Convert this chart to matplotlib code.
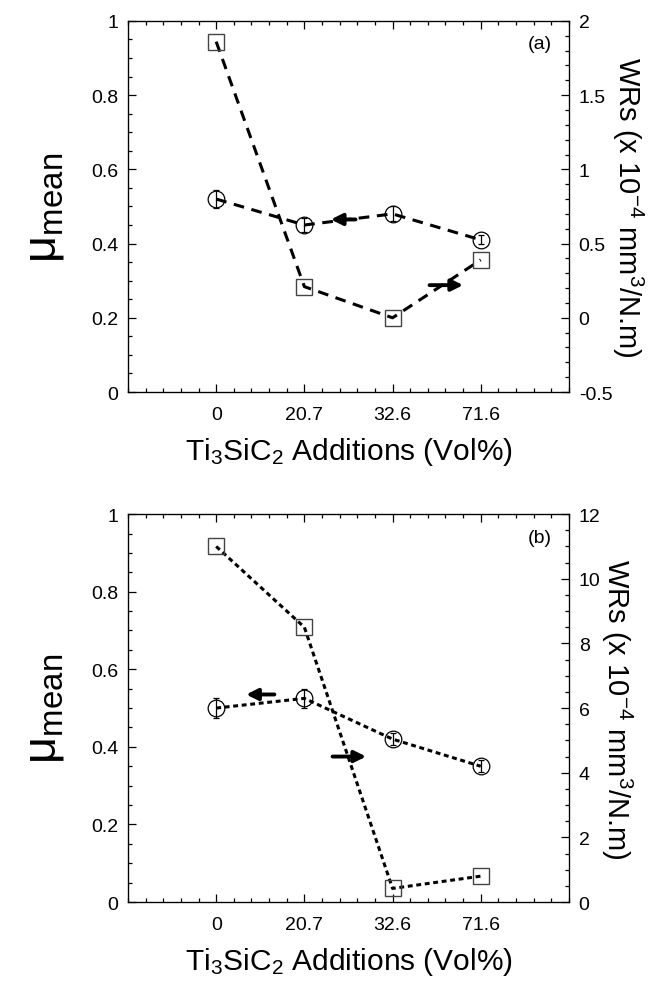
import numpy as np
import matplotlib.pyplot as plt
from matplotlib.ticker import MultipleLocator, FuncFormatter

plt.rcParams['font.family'] = ['Liberation Sans', 'DejaVu Sans']
plt.rcParams['mathtext.fontset'] = 'custom'
plt.rcParams['mathtext.rm'] = 'Liberation Sans'
plt.rcParams['mathtext.it'] = 'Liberation Sans'
plt.rcParams['mathtext.default'] = 'regular'

# x categories (Ti3SiC2 vol%)
labels = ['0', '20.7', '32.6', '71.6']
xpos = [1, 2, 3, 4]

# panel (a)
mu_a = [0.52, 0.45, 0.48, 0.41]
mu_a_err = [0.025, 0.02, 0.02, 0.012]
wr_a = [1.86, 0.21, 0.0, 0.39]

# panel (b)
mu_b = [0.50, 0.525, 0.42, 0.35]
mu_b_err = [0.025, 0.025, 0.015, 0.015]
wr_b = [11.0, 8.5, 0.42, 0.8]

fig = plt.figure(figsize=(6.65, 9.87), dpi=100)

panels = [
    dict(rect=[0.1925, 0.6018, 0.663, 0.376], mu=mu_a, err=mu_a_err, wr=wr_a,
         wlim=(-0.5, 2), wmaj=0.5, wmin=0.1, dash=(3.5, 2.5), tag='(a)',
         arr_mu=((2.58, 0.465), (2.30, 0.465)), arr_wr=((3.42, 0.22), (3.80, 0.22))),
    dict(rect=[0.1925, 0.0851, 0.663, 0.393], mu=mu_b, err=mu_b_err, wr=wr_b,
         wlim=(0, 12), wmaj=2, wmin=0.5, dash=(1.6, 1.2), tag='(b)',
         arr_mu=((1.66, 0.535), (1.34, 0.535)), arr_wr=((2.32, 4.5), (2.70, 4.5))),
]

fmt = FuncFormatter(lambda v, pos: f'{v:g}')

for p in panels:
    ax = fig.add_axes(p['rect'])
    ax2 = ax.twinx()

    ax.errorbar(xpos, p['mu'], yerr=p['err'], color='black', lw=2.2,
                dashes=p['dash'], marker='o', ms=12, mfc='none', mec='black',
                mew=0.9, elinewidth=0.9, capsize=2.5, capthick=0.9)
    ax2.plot(xpos, p['wr'], color='black', lw=2.2, dashes=p['dash'],
             marker='s', ms=12, mfc='none', mec='#444444', mew=1.0)

    arrow = dict(arrowstyle='-|>', lw=2.8, color='black', mutation_scale=17,
                 shrinkA=0, shrinkB=0)
    ax.annotate('', xy=p['arr_mu'][1], xytext=p['arr_mu'][0], arrowprops=arrow)
    ax2.annotate('', xy=p['arr_wr'][1], xytext=p['arr_wr'][0], arrowprops=arrow)

    ax.set_xlim(0, 5)
    ax.set_ylim(0, 1)
    ax2.set_ylim(*p['wlim'])
    ax.set_xticks(xpos)
    ax.set_xticklabels(labels)
    ax.xaxis.set_minor_locator(MultipleLocator(0.2))
    ax.yaxis.set_major_locator(MultipleLocator(0.2))
    ax.yaxis.set_minor_locator(MultipleLocator(0.05))
    ax.yaxis.set_major_formatter(fmt)
    ax2.yaxis.set_major_locator(MultipleLocator(p['wmaj']))
    ax2.yaxis.set_minor_locator(MultipleLocator(p['wmin']))
    ax2.yaxis.set_major_formatter(fmt)

    ax.tick_params(axis='x', which='both', direction='in', top=True, labelsize=14, pad=10)
    ax.tick_params(axis='y', which='both', direction='in', right=False, labelsize=14, pad=7)
    ax.tick_params(which='major', length=6, width=0.9)
    ax.tick_params(which='minor', length=3, width=0.9)
    ax2.tick_params(axis='y', which='both', direction='in', labelsize=14, pad=7)
    ax2.tick_params(which='major', length=6, width=0.9)
    ax2.tick_params(which='minor', length=3, width=0.9)
    for s in ax.spines.values():
        s.set_linewidth(0.9)

    ax.set_xlabel('Ti$_3$SiC$_2$ Additions (Vol%)', fontsize=21.5, labelpad=9)
    ax.set_ylabel(r'$\mu_{mean}$', fontsize=34, labelpad=18)
    ax2.set_ylabel('WRs (x 10$^{-4}$ mm$^3$/N.m)', fontsize=21, rotation=270, labelpad=24)
    ax.text(0.935, 0.94, p['tag'], transform=ax.transAxes, fontsize=14,
            ha='center', va='center')

plt.savefig('out.png', dpi=100)
